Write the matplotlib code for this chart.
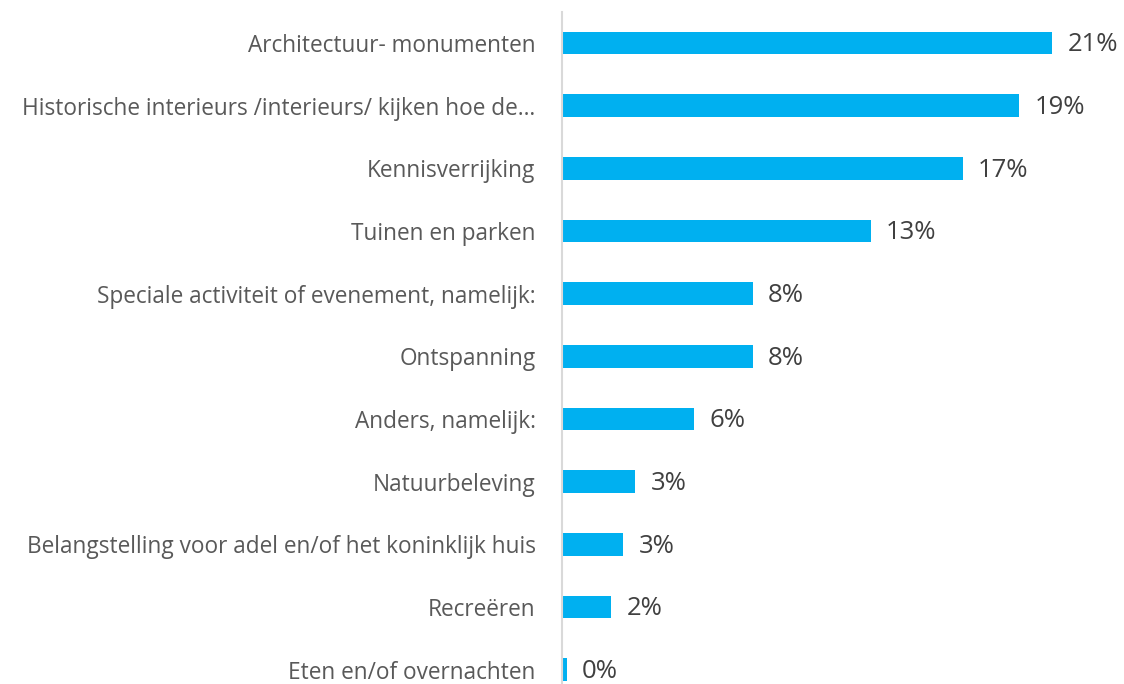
import matplotlib.pyplot as plt

categories = [
    "Architectuur- monumenten",
    "Historische interieurs /interieurs/ kijken hoe de\u2026",
    "Kennisverrijking",
    "Tuinen en parken",
    "Speciale activiteit of evenement, namelijk:",
    "Ontspanning",
    "Anders, namelijk:",
    "Natuurbeleving",
    "Belangstelling voor adel en/of het koninklijk huis",
    "Recreëren",
    "Eten en/of overnachten",
]
values = [20.8, 19.4, 17.0, 13.1, 8.1, 8.1, 5.6, 3.1, 2.6, 2.1, 0.2]

BAR_COLOR = "#00B0F0"
TEXT_COLOR = "#595959"

plt.rcParams['font.family'] = ['Open Sans', 'DejaVu Sans']

fig = plt.figure(figsize=(11.24, 6.84), dpi=100)
ax = fig.add_axes([0.5, -0.025, 0.48, 1.008])

pos = list(range(len(categories)))
ax.barh(pos, values, height=0.36, color=BAR_COLOR)
ax.set_ylim(len(categories) - 0.5, -0.5)
ax.set_xlim(0, 22.9)

# percentage labels just right of each bar
for p, v in zip(pos, values):
    ax.text(v + 0.65, p + 0.03, f"{v:.0f}%", va='center', ha='left',
            fontsize=18.5, color="#404040")

ax.set_yticks(pos)
ax.set_yticklabels(categories, fontsize=16.25, color=TEXT_COLOR)
ax.tick_params(axis='y', length=0, pad=19)
ax.set_xticks([])

for side in ['top', 'right', 'bottom']:
    ax.spines[side].set_visible(False)
ax.spines['left'].set_color("#D9D9D9")
ax.spines['left'].set_linewidth(1.5)

fig.savefig("out.png", dpi=100)
